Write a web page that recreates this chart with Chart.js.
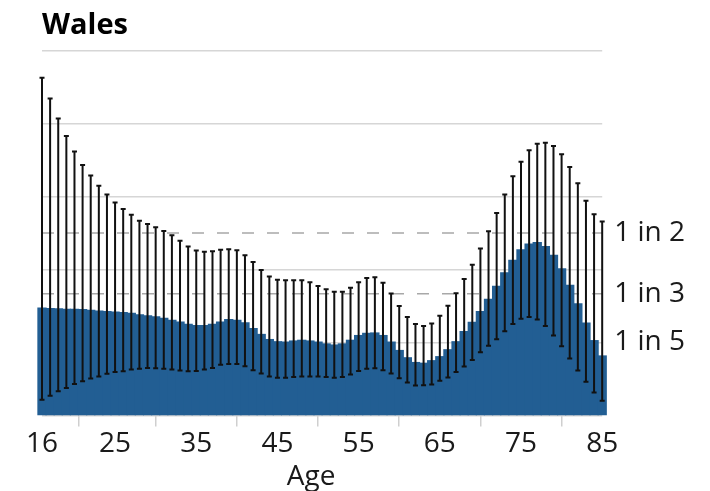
<!DOCTYPE html>
<html>
<head>
<meta charset="utf-8">
<script src="https://cdn.jsdelivr.net/npm/chart.js@4/dist/chart.umd.min.js"></script>
<style>
  html, body { margin: 0; padding: 0; background: #fff; }
</style>
</head>
<body>
<canvas id="walesChart" width="710" height="491"></canvas>
<script>
// ages along the x axis
const ages = [16, 17, 18, 19, 20, 21, 22, 23, 24, 25, 26, 27, 28, 29, 30, 31, 32, 33, 34, 35,
  36, 37, 38, 39, 40, 41, 42, 43, 44, 45, 46, 47, 48, 49, 50, 51, 52, 53, 54, 55,
  56, 57, 58, 59, 60, 61, 62, 63, 64, 65, 66, 67, 68, 69, 70, 71, 72, 73, 74, 75,
  76, 77, 78, 79, 80, 81, 82, 83, 84, 85];

// estimate (%) per age
const share = [29.4, 29.3, 29.2, 29.1, 29.1, 29.0, 28.8, 28.6, 28.5, 28.3, 28.2, 28.0, 27.6, 27.3, 27.0, 26.6, 26.1, 25.6, 25.0, 24.6,
  24.6, 25.0, 25.6, 26.3, 26.1, 25.4, 23.8, 22.2, 20.8, 20.2, 20.1, 20.4, 20.6, 20.4, 20.1, 19.6, 19.3, 19.6, 20.6, 21.9,
  22.5, 22.6, 21.9, 20.1, 17.8, 15.8, 14.5, 14.3, 15.0, 16.1, 18.0, 20.2, 23.0, 25.5, 28.5, 31.8, 35.4, 39.1, 42.5, 45.4,
  47.0, 47.4, 46.3, 43.9, 40.2, 35.7, 30.6, 25.3, 20.5, 16.3];

// lower / upper ends of the error bars (%)
const lower = [4.3, 5.4, 6.6, 7.5, 8.6, 9.4, 10.1, 10.7, 11.4, 11.9, 12.1, 12.6, 12.8, 13.0, 12.9, 12.8, 12.6, 12.3, 12.1, 12.2,
  12.6, 13.0, 13.9, 14.1, 14.1, 13.5, 12.4, 11.5, 10.7, 10.3, 10.3, 10.5, 10.7, 10.7, 10.7, 10.5, 10.3, 10.5, 11.2, 12.2,
  12.8, 12.9, 12.4, 11.5, 10.2, 9.0, 8.2, 8.3, 8.5, 9.5, 10.4, 11.9, 13.4, 15.2, 17.3, 19.1, 20.9, 23.1, 25.1, 26.5,
  27.0, 26.3, 24.5, 21.9, 19.0, 15.6, 12.3, 9.2, 6.3, 4.0];
const upper = [92.6, 86.9, 81.4, 76.6, 72.4, 68.7, 65.8, 63.0, 60.6, 58.4, 56.6, 55.0, 53.4, 52.5, 51.6, 50.6, 49.4, 47.9, 46.3, 45.2,
  44.9, 45.0, 45.4, 45.6, 45.3, 43.9, 42.1, 39.9, 38.1, 37.2, 37.1, 37.1, 37.1, 36.5, 35.5, 34.6, 33.9, 33.9, 35.0, 36.5,
  37.7, 37.9, 36.4, 33.4, 30.0, 27.0, 25.1, 24.5, 25.2, 27.3, 30.1, 33.5, 37.4, 41.3, 45.8, 50.5, 55.5, 60.6, 65.6, 69.6,
  72.7, 74.5, 74.8, 73.9, 71.6, 68.1, 63.7, 58.9, 55.2, 53.2];

const xTicks = [16, 25, 35, 45, 55, 65, 75, 85];
const gridLevels = [0, 20, 40, 60, 80, 100];
const riskLevels = [50, 100 / 3, 20];
const riskLabels = ['1 in 2', '1 in 3', '1 in 5'];
const dashedLevels = [50, 100 / 3];

const FONT = "'Open Sans', sans-serif";

// dashed "1 in n" guides, behind the bars
const refLinePlugin = {
  id: 'refLines',
  beforeDatasetsDraw(chart) {
    const { ctx, chartArea, scales: { y } } = chart;
    ctx.save();
    ctx.strokeStyle = '#a8a8a8';
    ctx.lineWidth = 1.5;
    ctx.setLineDash([12, 13]);
    dashedLevels.forEach(v => {
      const py = y.getPixelForValue(v);
      ctx.beginPath();
      ctx.moveTo(chartArea.left, py);
      ctx.lineTo(chartArea.right, py);
      ctx.stroke();
    });
    ctx.restore();
  }
};

// error bars with small caps
const errorBarPlugin = {
  id: 'errorBars',
  afterDatasetsDraw(chart) {
    const { ctx, scales: { x, y } } = chart;
    ctx.save();
    ctx.strokeStyle = '#111';
    ctx.lineWidth = 2;
    ages.forEach((age, i) => {
      const px = x.getPixelForValue(age);
      const top = y.getPixelForValue(upper[i]);
      const bot = y.getPixelForValue(lower[i]);
      ctx.beginPath();
      ctx.moveTo(px, top);
      ctx.lineTo(px, bot);
      ctx.moveTo(px - 2.5, top);
      ctx.lineTo(px + 2.5, top);
      ctx.moveTo(px - 2.5, bot);
      ctx.lineTo(px + 2.5, bot);
      ctx.stroke();
    });
    ctx.restore();
  }
};

// "Age" axis title, sits a little left of centre like the original
const axisTitlePlugin = {
  id: 'ageTitle',
  afterDraw(chart) {
    const { ctx, chartArea } = chart;
    ctx.save();
    ctx.font = "28px 'Open Sans', sans-serif";
    ctx.fillStyle = '#1a1a1a';
    ctx.textAlign = 'center';
    ctx.textBaseline = 'middle';
    ctx.fillText('Age', (chartArea.left + chartArea.right) / 2 - 11, chart.height - 14);
    ctx.restore();
  }
};

const ctx = document.getElementById('walesChart').getContext('2d');
const myChart = new Chart(ctx, {
  type: 'bar',
  data: {
    datasets: [{
      data: ages.map((a, i) => ({ x: a, y: share[i] })),
      backgroundColor: '#225e93',
      borderWidth: 0,
      inflateAmount: 0.6,
      barPercentage: 1,
      categoryPercentage: 1,
      clip: false
    }]
  },
  options: {
    responsive: false,
    animation: false,
    layout: { padding: { left: 42, right: 21, top: 8, bottom: 29 } },
    plugins: {
      legend: { display: false },
      tooltip: { enabled: false },
      title: {
        display: true,
        text: 'Wales',
        align: 'start',
        color: '#000',
        font: { family: FONT, size: 29, weight: 'bold' },
        padding: { top: 0, bottom: 8 }
      }
    },
    scales: {
      x: {
        type: 'linear',
        min: 16,
        max: 85,
        offset: false,
        afterBuildTicks: axis => { axis.ticks = xTicks.map(v => ({ value: v })); },
        grid: { drawOnChartArea: false, drawTicks: true, tickLength: 11, color: '#cfcfcf', lineWidth: 1.5 },
        border: { display: false },
        ticks: { color: '#1a1a1a', font: { family: FONT, size: 28 }, padding: 1, maxRotation: 0, autoSkip: false }
      },
      y: {
        min: 0,
        max: 100,
        afterBuildTicks: axis => { axis.ticks = gridLevels.map(v => ({ value: v })); },
        grid: { color: '#d6d6d6', lineWidth: 1.5, drawTicks: false },
        border: { display: false },
        ticks: { display: false }
      },
      y2: {
        position: 'right',
        min: 0,
        max: 100,
        afterBuildTicks: axis => { axis.ticks = riskLevels.map(v => ({ value: v })); },
        grid: { display: false },
        border: { display: false },
        ticks: {
          color: '#1a1a1a',
          font: { family: FONT, size: 28 },
          padding: 4,
          callback: (value, index) => riskLabels[index]
        }
      }
    }
  },
  plugins: [refLinePlugin, errorBarPlugin, axisTitlePlugin]
});
</script>
</body>
</html>
